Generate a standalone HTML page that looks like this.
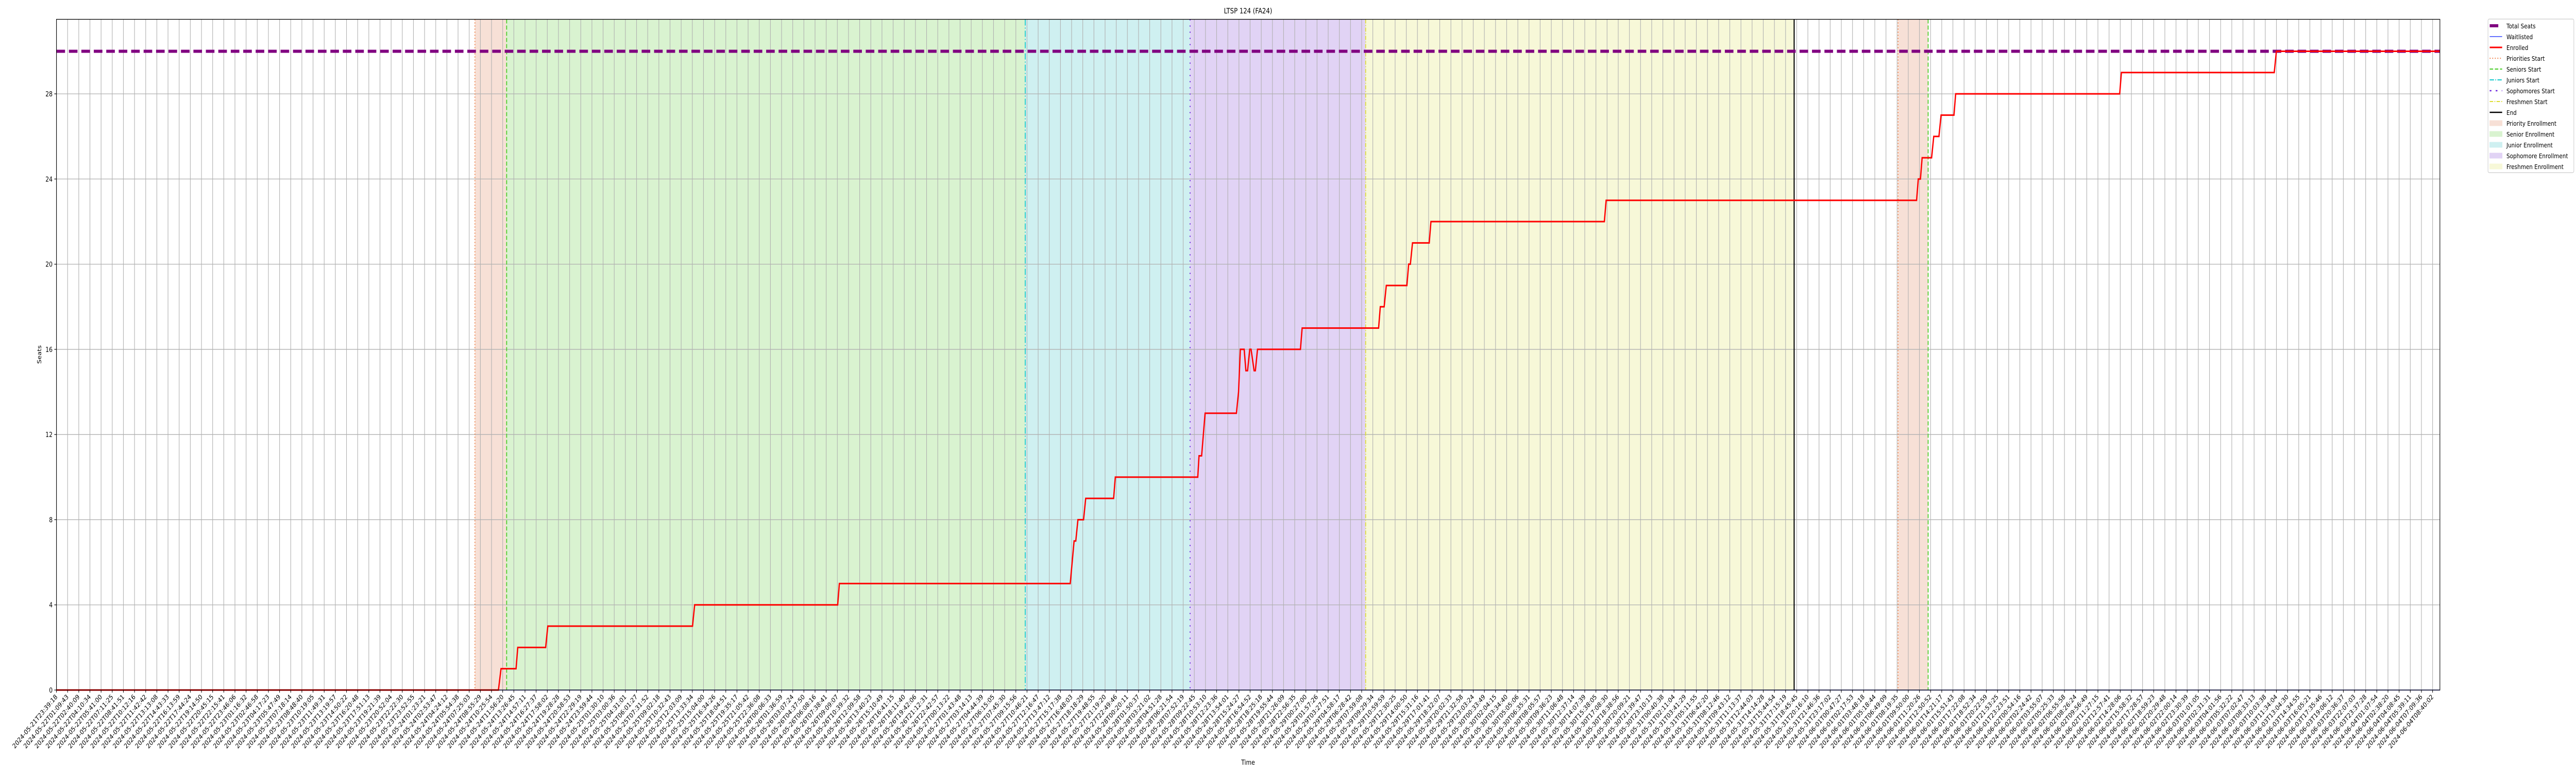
<!DOCTYPE html>
<html><head><meta charset="utf-8">
<style>
html,body{margin:0;padding:0;background:#fff;width:100%;height:100%;overflow:hidden;}
svg{display:block;position:absolute;left:0;top:0;width:100vw;height:100vh;font-family:"DejaVu Sans","Liberation Sans",sans-serif;}
</style></head>
<body>
<svg id="chart" viewBox="0 0 6000 1500" preserveAspectRatio="none" xmlns="http://www.w3.org/2000/svg">
<rect width="6000" height="1500" fill="#fff"/>
<text x="2907" y="26" font-size="14" text-anchor="middle">LTSP 124 (FA24)</text>
<text x="2907" y="1484" font-size="13" text-anchor="middle">Time</text>
<text x="0" y="0" font-size="13" text-anchor="middle" transform="translate(96,688) rotate(-90)">Seats</text>
<g id="bands"></g><g id="grid"></g><g id="vlines"></g><g id="series"></g><g id="axes"></g><g id="legend"></g>
</svg>
<script>
// ---- data (time in hours since 2024-05-21T23:39:18) ----
const totalSeats = 30;
const enrolledT = [0,59.71,60.06,62.09,62.32,66.09,66.38,85.93,86.22,105.54,105.77,136.96,137.48,137.71,138.00,138.76,139.05,142.82,143.05,154.19,154.36,154.71,155.18,159.41,159.70,159.94,160.46,160.69,160.92,161.21,161.39,161.80,161.97,162.26,168.06,168.29,178.62,178.85,179.37,179.66,182.44,182.68,182.91,183.20,185.46,185.69,209.12,209.36,251.30,251.53,251.82,252.05,253.33,253.62,254.32,254.61,256.35,256.58,278.74,278.97,299.62,299.91,322];
const enrolledV = [0,0,1,1,2,2,3,3,4,4,5,5,7,7,8,8,9,9,10,10,11,11,13,13,14,16,16,15,15,16,16,15,15,16,16,17,17,18,18,19,19,20,20,21,21,22,22,23,23,24,24,25,25,26,26,27,27,28,28,29,29,30,30];
const waitlistT = [0,322];
const waitlistV = [0,0];
const bandNames = ["priority-enrollment","senior-enrollment","junior-enrollment","sophomore-enrollment","freshmen-enrollment","priority-enrollment-2"];
const bandStart = [56.53,60.82,130.88,153.15,176.87,248.80];
const bandEnd = [60.82,130.88,153.15,176.87,234.76,252.86];
const bandColor = ["#f7e0d6","#d9f3d0","#cff0f1","#e1d3f5","#f7f8d8","#f7e0d6"];
const eventNames = ["priorities-start","seniors-start","juniors-start","sophomores-start","freshmen-start","end","priorities-start-2","seniors-start-2"];
const eventT = [56.53,60.82,130.88,153.15,176.87,234.76,248.80,252.86];
const yTicks = [0,4,8,12,16,20,24,28];
const tickCount = 214;
const tickStep = 1.5071;
const startMs = Date.UTC(2024,4,21,23,39,18);

// ---- scales ----
const L=131.5, R=5683, T=37.5, B=1339;
const XMAX=322.0, YMAX=31.5;
const x = t => L + t/XMAX*(R-L);
const y = v => B - v/YMAX*(B-T);
const NS="http://www.w3.org/2000/svg";
function mk(tag, attrs, parent){const e=document.createElementNS(NS,tag);for(const k in attrs)e.setAttribute(k,attrs[k]);parent.appendChild(e);return e;}
const g = id=>document.getElementById(id);

bandStart.forEach((s,i)=>{
  const r=mk('rect',{x:x(s),y:T,width:x(bandEnd[i])-x(s),height:B-T,fill:bandColor[i]},g('bands'));
  
  
});
const tickT=[]; const tickLabels=[];
for(let i=0;i<tickCount;i++){tickT.push(i*tickStep);const d=new Date(startMs+i*tickStep*3600000);tickLabels.push(d.toISOString().slice(0,19));}
tickT.forEach((t,i)=>{
  const gl=mk('line',{x1:x(t),x2:x(t),y1:T,y2:B,stroke:'#b0b0b0','stroke-width':1.3},g('grid'));
  
  
  mk('line',{x1:x(t),x2:x(t),y1:B,y2:B+5,stroke:'#000','stroke-width':1.2},g('axes'));
  const tx=mk('text',{x:0,y:0,'font-size':13,'text-anchor':'end',transform:`translate(${x(t)+3},${B+14}) rotate(-45)`},g('axes'));
  tx.textContent=tickLabels[i];
  
  
});
yTicks.forEach(v=>{
  const gl=mk('line',{x1:L,x2:R,y1:y(v),y2:y(v),stroke:'#b0b0b0','stroke-width':1.3},g('grid'));
  
  
  mk('line',{x1:L-5,x2:L,y1:y(v),y2:y(v),stroke:'#000','stroke-width':1.2},g('axes'));
  const tx=mk('text',{x:L-9,y:y(v)+5,'font-size':13,'text-anchor':'end'},g('axes'));
  tx.textContent=v;
  
  
});
const evStyle=[
 {stroke:'#ee7a3f',dash:'2,4',w:2},
 {stroke:'#44cc22',dash:'8,4',w:2},
 {stroke:'#11c8cc',dash:'12,4,2,4',w:2},
 {stroke:'#6a22dd',dash:'2,10',w:2.5},
 {stroke:'#dddd33',dash:'8,3,2,3',w:2},
 {stroke:'#000',dash:'',w:2.5},
 {stroke:'#ee7a3f',dash:'2,4',w:2},
 {stroke:'#44cc22',dash:'8,4',w:2}];
eventT.forEach((t,i)=>{
  const s=evStyle[i];
  const ln=mk('line',{x1:x(t),x2:x(t),y1:T,y2:B,stroke:s.stroke,'stroke-width':s.w,'stroke-dasharray':s.dash},g('vlines'));
  
  
});
const tl=mk('line',{x1:L,x2:R,y1:y(totalSeats),y2:y(totalSeats),stroke:'#800080','stroke-width':6,'stroke-dasharray':'20,9'},g('series'));


const wl=mk('polyline',{points:waitlistT.map((t,i)=>x(t)+','+y(waitlistV[i])).join(' '),fill:'none',stroke:'#3344ff','stroke-width':1.5},g('series'));


const el=mk('polyline',{points:enrolledT.map((t,i)=>x(t)+','+y(enrolledV[i])).join(' '),fill:'none',stroke:'#ff0000','stroke-width':3,'stroke-linejoin':'miter'},g('series'));


const fr=mk('rect',{x:L,y:T,width:R-L,height:B-T,fill:'none',stroke:'#000','stroke-width':1.3},g('axes'));


const lg=g('legend');
const box=mk('rect',{x:5795,y:37,width:200,height:298,rx:3,fill:'#fff',stroke:'#ccc','stroke-width':1.2},lg);


const legNames=["Total Seats","Waitlisted","Enrolled","Priorities Start","Seniors Start","Juniors Start","Sophomores Start","Freshmen Start","End","Priority Enrollment","Senior Enrollment","Junior Enrollment","Sophomore Enrollment","Freshmen Enrollment"];
const legLine=[['#800080','',6,'l'],['#3344ff','',1.5,'l'],['#ff0000','',3,'l'],['#ee7a3f','2,4',2,'l'],['#44cc22','8,4',2,'l'],['#11c8cc','10,3,2,3',2,'l'],['#6a22dd','4,10',2.5,'l'],['#dddd33','8,3,2,3',2,'l'],['#000','',2.5,'l'],['#f7e0d6','',0,'p'],['#d9f3d0','',0,'p'],['#cff0f1','',0,'p'],['#e1d3f5','',0,'p'],['#f7f8d8','',0,'p']];
legNames.forEach((n,i)=>{
  const yy=50+i*21;
  const s=legLine[i];
  if(s[3]==='l'){
    mk('line',{x1:5799,x2:i===0?5819:5828,y1:yy,y2:yy,stroke:s[0],'stroke-width':s[2],'stroke-dasharray':s[1]},lg);
  } else {
    mk('rect',{x:5799,y:yy-5,width:29,height:10,fill:s[0],stroke:s[0]},lg);
  }
  const tx=mk('text',{x:5838,y:yy+5,'font-size':12.5},lg);
  tx.textContent=n;
  
  
});
</script>
</body></html>
